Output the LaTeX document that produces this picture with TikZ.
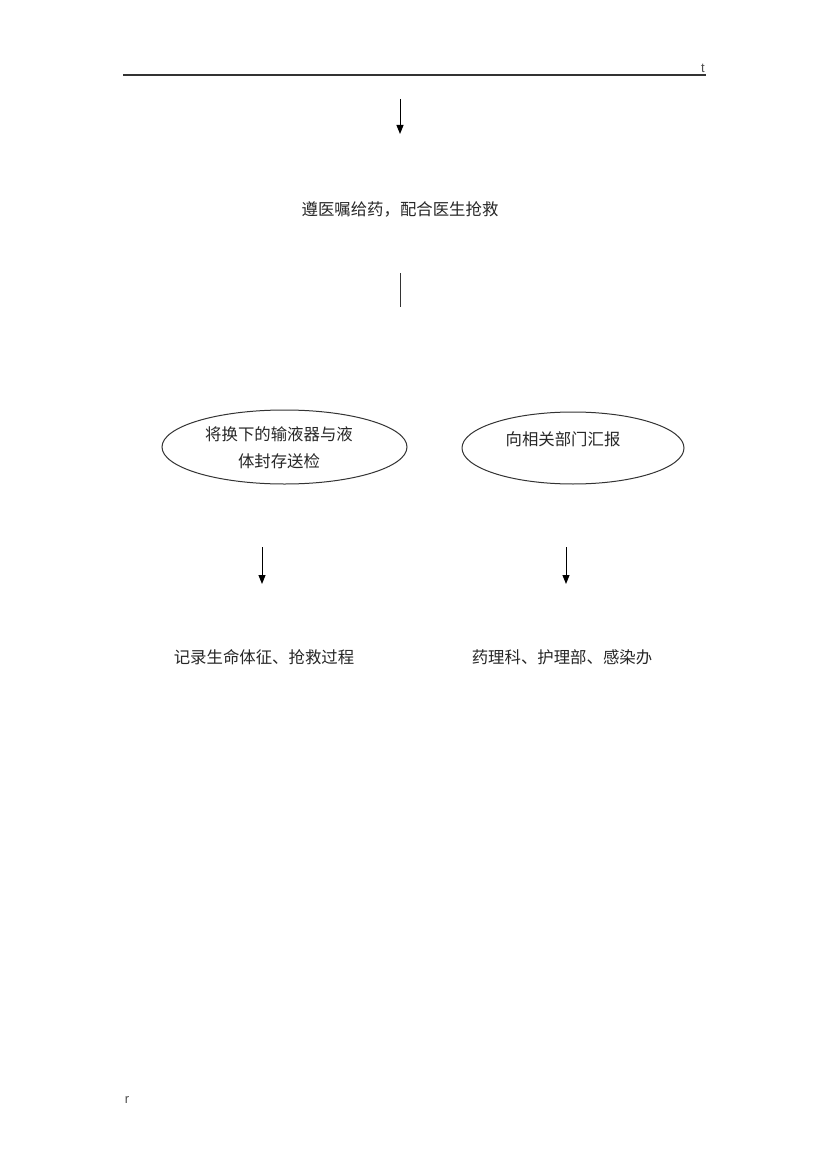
\documentclass[tikz,border=0pt]{standalone}
\usepackage{fontspec}
\setmainfont{Liberation Sans}
\newfontfamily\cjk{Noto Sans CJK SC}
\usetikzlibrary{arrows.meta,shapes.geometric}
\begin{document}
\begin{tikzpicture}[x=1pt,y=-1pt,
  txt/.style={font=\cjk\fontsize{16.4}{27}\selectfont, text=black!85, inner sep=0pt},
  oval/.style={draw=black!80, line width=1pt, ellipse, minimum width=#1},
  arr/.style={draw=black, line width=1pt, -{Triangle[width=7pt,length=9pt]}},
  rule/.style={draw=black!80, line width=1.5pt}]
\useasboundingbox (0,0) rectangle (830,1174);
% header rule
\coordinate (hl) at (123,75);
\coordinate (hr) at (706,75);
\draw[rule] (hl) -- (hr);
\node[font=\fontsize{13}{14}\selectfont, text=black!70, inner sep=0pt] (t) at (703,68) {t};
% top arrow
\coordinate (a1s) at (400,99);
\coordinate (a1e) at (400,134);
\draw[arr] (a1s) -- (a1e);
\node[txt] (give) at (400,209) {遵医嘱给药，配合医生抢救};
% vertical line
\coordinate (v1s) at (400,273);
\coordinate (v1e) at (400,307);
\draw[draw=black!80, line width=1pt] (v1s) -- (v1e);
% ellipses
\node[oval=245pt, minimum height=74pt] (e1) at (284.5,447) {};
\node[txt, align=center] (e1t) at (279,448) {将换下的输液器与液\\体封存送检};
\node[oval=222pt, minimum height=72pt] (e2) at (573,448) {};
\node[txt] (e2t) at (563,439) {向相关部门汇报};
% lower arrows
\coordinate (a2s) at (262,547);
\coordinate (a2e) at (262,584);
\draw[arr] (a2s) -- (a2e);
\coordinate (a3s) at (566,547);
\coordinate (a3e) at (566,584);
\draw[arr] (a3s) -- (a3e);
\node[txt] (rec) at (264,657) {记录生命体征、抢救过程};
\node[txt] (dept) at (562,657) {药理科、护理部、感染办};
% footer mark
\node[font=\fontsize{13}{14}\selectfont, text=black!70, inner sep=0pt] (r) at (127,1100) {r};
\end{tikzpicture}
\end{document}
